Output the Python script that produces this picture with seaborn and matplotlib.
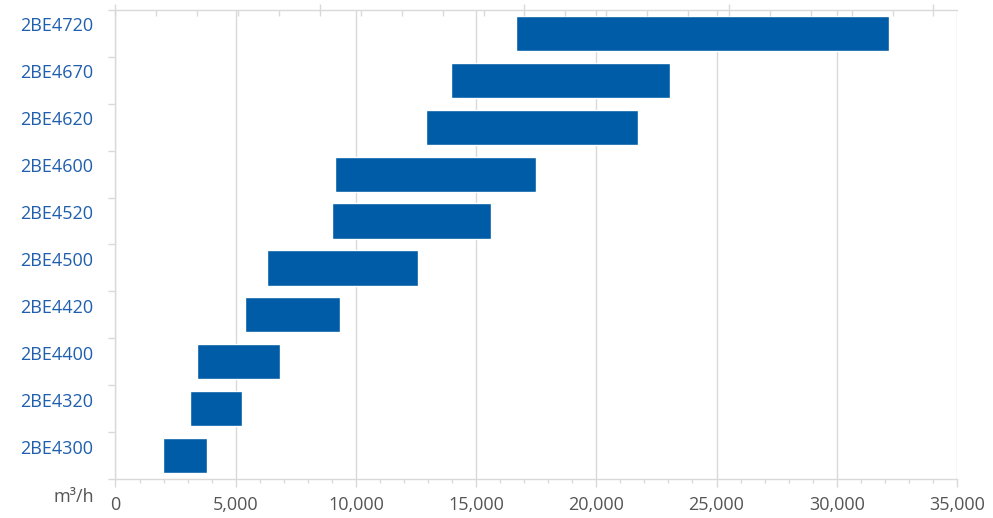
import numpy as np
import pandas as pd
import matplotlib
matplotlib.use("Agg")
import matplotlib.pyplot as plt
import matplotlib.transforms as mtrans
from matplotlib.ticker import MultipleLocator, FuncFormatter, FixedLocator
import seaborn as sns

# ── data (m³/h operating range per model) ──────────────────
models = ["2BE4720", "2BE4670", "2BE4620", "2BE4600", "2BE4520",
          "2BE4500", "2BE4420", "2BE4400", "2BE4320", "2BE4300"]
flow_min = [16650, 13950, 12900, 9150, 9000, 6300, 5400, 3380, 3120, 1960]
flow_max = [32170, 23050, 21720, 17480, 15600, 12570, 9330, 6830, 5250, 3800]

df = pd.DataFrame({"model": models, "lo": flow_min, "hi": flow_max})
df["span"] = df["hi"] - df["lo"]

BAR = "#005ca6"
LABEL_BLUE = "#1f5fae"
GRAY_TXT = "#555555"
GRID = "#d9d9d9"

sns.set_theme(style="white")
plt.rcParams["font.family"] = ["Open Sans", "DejaVu Sans"]

fig = plt.figure(figsize=(9.93, 5.18), dpi=100)
ax = fig.add_axes([0.1163, 0.0753, 0.8474, 0.9054])

sns.barplot(data=df, x="span", y="model", order=models, left=df["lo"].values,
            color=BAR, saturation=1, width=0.75, ax=ax, zorder=3)

ax.set_xlim(0, 35000)
ax.set_ylim(9.5, -0.5)
ax.set_xlabel(""); ax.set_ylabel("")

# x axis
ax.xaxis.set_major_locator(MultipleLocator(5000))
ax.xaxis.set_minor_locator(MultipleLocator(1000))
ax.xaxis.set_major_formatter(FuncFormatter(lambda v, p: f"{int(v):,}"))
ax.tick_params(axis="x", which="major", length=6, width=1, color=GRID,
               labelsize=13, labelcolor=GRAY_TXT, pad=6, bottom=True)
ax.tick_params(axis="x", which="minor", length=3, width=1, color=GRID, bottom=True)
ax.grid(axis="x", which="major", color=GRID, linewidth=1, zorder=0)
ax.set_axisbelow(True)

# y axis: labels near centers (sitting a bit high), ticks at category boundaries
ax.yaxis.set_minor_locator(FixedLocator(np.arange(-0.5, 10, 1)))
ax.tick_params(axis="y", which="major", length=0, labelsize=13,
               labelcolor=LABEL_BLUE, pad=16)
ax.tick_params(axis="y", which="minor", length=5, width=1, color=GRID, left=True)
shift = mtrans.ScaledTranslation(0, 0.09, fig.dpi_scale_trans)
for lbl in ax.get_yticklabels():
    lbl.set_transform(lbl.get_transform() + shift)

for s in ["left", "bottom", "top"]:
    ax.spines[s].set_color(GRID)
    ax.spines[s].set_linewidth(1)
ax.spines["right"].set_visible(False)

# faint top axis ticks
top = ax.twiny()
top.set_xlim(0, 4.115)
top.xaxis.set_major_locator(MultipleLocator(1))
top.xaxis.set_minor_locator(MultipleLocator(0.2))
top.tick_params(axis="x", which="major", direction="inout", length=8, width=1,
                color=GRID, labeltop=False)
top.tick_params(axis="x", which="minor", direction="in", length=4, width=1,
                color=GRID)
for s in top.spines.values():
    s.set_visible(False)

ax.text(-0.025, -0.039, "m³/h", transform=ax.transAxes, ha="right", va="center",
        fontsize=13, color=GRAY_TXT)

fig.savefig("out.png", dpi=100)
